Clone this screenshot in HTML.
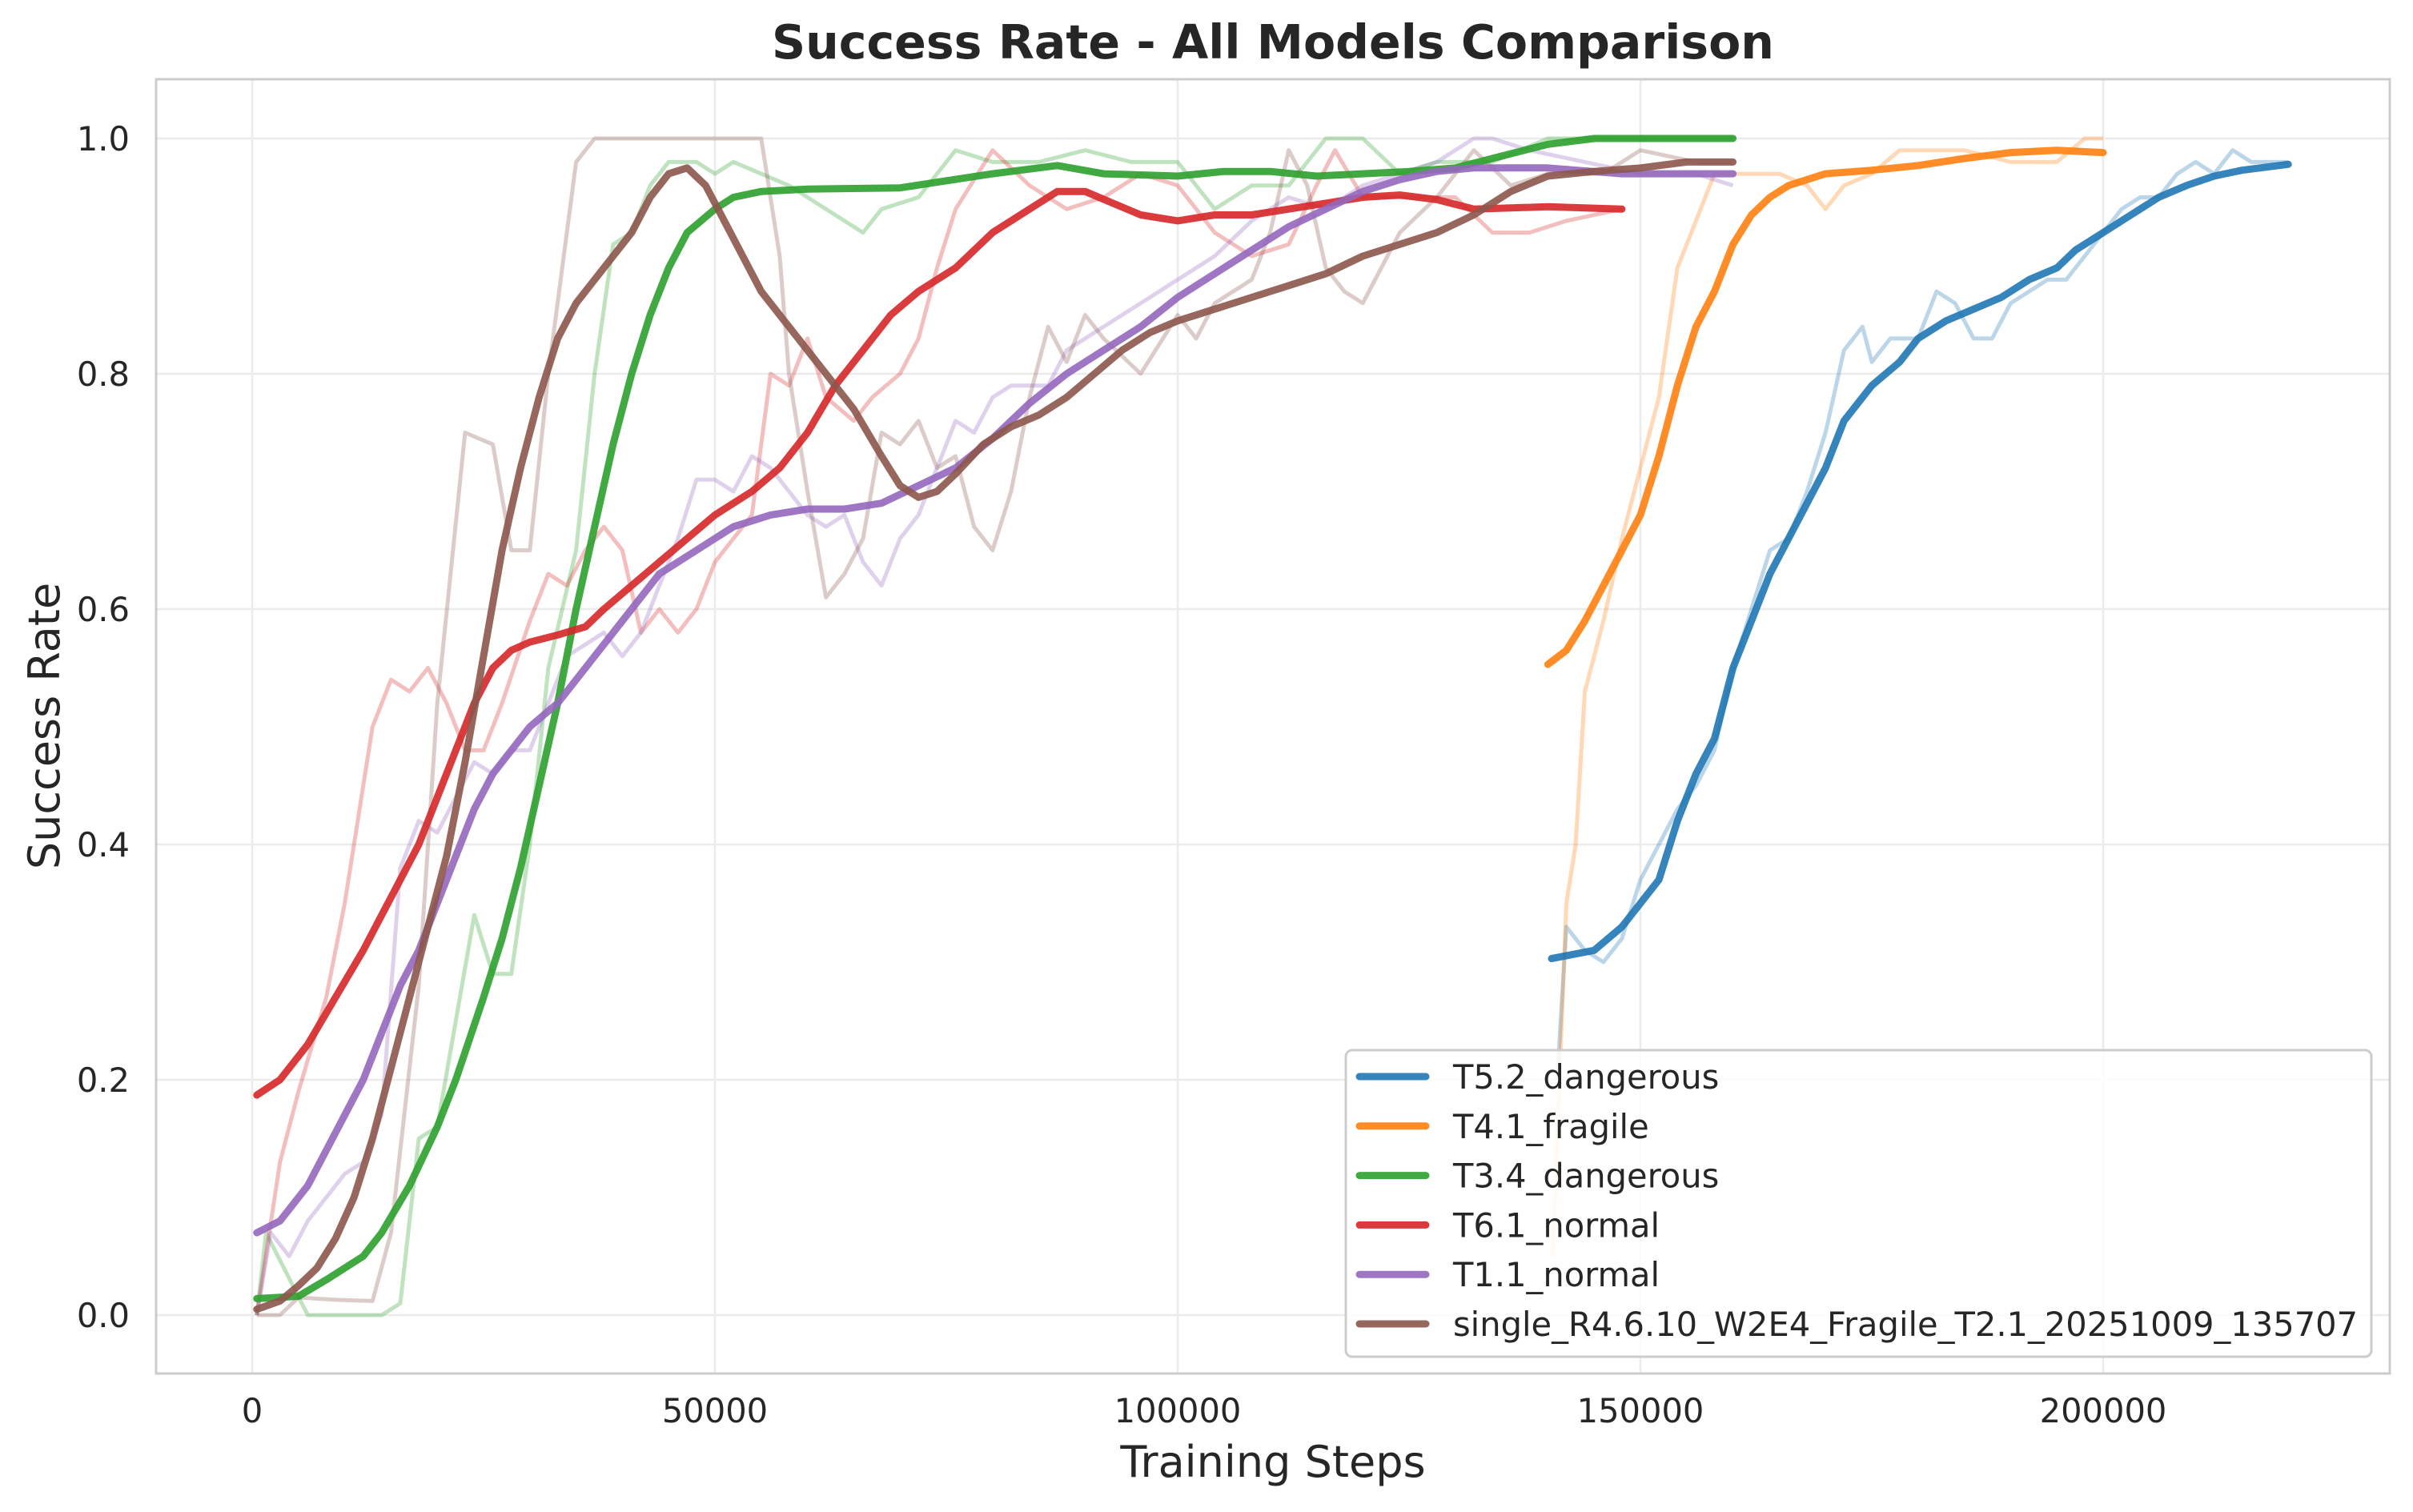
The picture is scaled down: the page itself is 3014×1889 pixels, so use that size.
<!DOCTYPE html>
<html><head><meta charset="utf-8"><style>
html,body{margin:0;padding:0;background:#fff;}
svg text{font-family:"DejaVu Sans","Liberation Sans",sans-serif;fill:#262626;}
</style></head>
<body>
<svg id="chart" width="3014" height="1884" xmlns="http://www.w3.org/2000/svg">
<rect width="3014" height="1884" fill="#fff"/>
<text x="1590" y="73" font-size="58.5" font-weight="bold" text-anchor="middle">Success Rate - All Models Comparison</text>
<g id="grid"></g>
<g id="raw"></g>
<g id="smooth"></g>
<rect x="195" y="99" width="2790" height="1617" fill="none" stroke="#cccccc" stroke-width="3"/>
<g id="ticks"></g>
<text x="1590" y="1845" font-size="54" text-anchor="middle">Training Steps</text>
<text x="0" y="0" font-size="54" text-anchor="middle" transform="translate(74,907) rotate(-90)">Success Rate</text>
<g id="legend"></g>
</svg>
<script>
const names=["T5.2_dangerous","T4.1_fragile","T3.4_dangerous","T6.1_normal","T1.1_normal","single_R4.6.10_W2E4_Fragile_T2.1_20251009_135707"];
const colors=["#1f77b4","#ff7f0e","#2ca02c","#d62728","#9467bd","#8c564b"];
const xTicks=[0,50000,100000,150000,200000];
const yTicks=[0.0,0.2,0.4,0.6,0.8,1.0];
const blueSteps=[140400,145000,148000,150000,152000,154000,156000,158000,160000,162000,164000,166000,168000,170000,172000,175000,178000,180000,183000,186000,189000,192000,195000,197000,200000,203000,206000,209000,212000,215000,220000];
const blueSmooth=[0.303,0.31,0.33,0.35,0.37,0.42,0.46,0.49,0.55,0.59,0.63,0.66,0.69,0.72,0.76,0.79,0.81,0.83,0.845,0.855,0.865,0.88,0.89,0.905,0.92,0.935,0.95,0.96,0.968,0.973,0.978];
const blueRawSteps=[141000,142000,144000,146000,148000,150000,152000,154000,156000,158000,160000,162000,164000,166000,168000,170000,172000,174000,175000,177000,180000,182000,184000,186000,188000,190000,192000,194000,196000,198000,200000,202000,204000,206000,208000,210000,212000,214000,216000,220000];
const blueRaw=[0.2,0.33,0.31,0.30,0.32,0.37,0.40,0.43,0.45,0.48,0.55,0.60,0.65,0.66,0.70,0.75,0.82,0.84,0.81,0.83,0.83,0.87,0.86,0.83,0.83,0.86,0.87,0.88,0.88,0.90,0.92,0.94,0.95,0.95,0.97,0.98,0.97,0.99,0.98,0.98];
const orangeSteps=[140000,142000,144000,146000,148000,150000,152000,154000,156000,158000,160000,162000,164000,166000,170000,175000,180000,185000,190000,195000,200000];
const orangeSmooth=[0.553,0.565,0.59,0.62,0.65,0.68,0.73,0.79,0.84,0.87,0.91,0.935,0.95,0.96,0.97,0.973,0.977,0.983,0.988,0.99,0.988];
const orangeRawSteps=[140500,142000,143000,144000,146000,148000,150000,152000,154000,156000,158000,160000,165000,168000,170000,172000,175000,178000,185000,190000,195000,198000,200000];
const orangeRaw=[0.05,0.35,0.40,0.53,0.59,0.66,0.72,0.78,0.89,0.93,0.97,0.97,0.97,0.96,0.94,0.96,0.97,0.99,0.99,0.98,0.98,1.0,1.0];
const greenSteps=[500,5000,8000,12000,14000,17000,20000,22000,25000,27000,29000,31000,33000,35000,37000,39000,41000,43000,45000,47000,50000,52000,55000,60000,70000,80000,87000,92000,100000,105000,110000,115000,120000,125000,130000,135000,140000,145000,160000];
const greenSmooth=[0.014,0.016,0.03,0.05,0.07,0.11,0.16,0.2,0.27,0.32,0.38,0.45,0.52,0.6,0.67,0.74,0.8,0.85,0.89,0.92,0.94,0.95,0.955,0.957,0.958,0.97,0.977,0.97,0.968,0.972,0.972,0.968,0.97,0.972,0.975,0.985,0.995,1.0,1.0];
const greenRawSteps=[500,1500,6000,14000,16000,18000,20000,22000,24000,26000,28000,30000,32000,35000,37000,39000,41000,43000,45000,48000,50000,52000,55000,58000,62000,66000,68000,72000,76000,80000,85000,90000,95000,100000,104000,108000,112000,116000,120000,124000,128000,134000,140000,150000,160000];
const greenRaw=[0.0,0.07,0.0,0.0,0.01,0.15,0.16,0.25,0.34,0.29,0.29,0.4,0.55,0.65,0.8,0.91,0.92,0.96,0.98,0.98,0.97,0.98,0.97,0.96,0.94,0.92,0.94,0.95,0.99,0.98,0.98,0.99,0.98,0.98,0.94,0.96,0.96,1.0,1.0,0.97,0.98,0.98,1.0,1.0,1.0];
const redSteps=[500,3000,6000,9000,12000,14000,16000,18000,20000,22000,24000,26000,28000,30000,33000,36000,38000,41000,44000,47000,50000,54000,57000,60000,63000,66000,69000,72000,76000,80000,84000,87000,90000,93000,96000,100000,104000,108000,112000,116000,120000,124000,128000,132000,140000,148000];
const redSmooth=[0.187,0.2,0.23,0.27,0.31,0.34,0.37,0.4,0.44,0.48,0.52,0.55,0.565,0.572,0.578,0.585,0.6,0.62,0.64,0.66,0.68,0.7,0.72,0.75,0.79,0.82,0.85,0.87,0.89,0.92,0.94,0.955,0.955,0.945,0.935,0.93,0.935,0.935,0.94,0.945,0.95,0.952,0.948,0.94,0.942,0.94];
const redRawSteps=[500,3000,5000,8000,10000,13000,15000,17000,19000,21000,23000,25000,27000,30000,32000,34000,36000,38000,40000,42000,44000,46000,48000,50000,54000,56000,58000,60000,62000,65000,67000,70000,72000,74000,76000,80000,84000,88000,92000,96000,100000,104000,108000,112000,115000,117000,120000,126000,130000,134000,138000,142000,148000];
const redRaw=[0.0,0.13,0.19,0.27,0.35,0.5,0.54,0.53,0.55,0.52,0.48,0.48,0.52,0.59,0.63,0.62,0.65,0.67,0.65,0.58,0.6,0.58,0.6,0.64,0.68,0.8,0.79,0.83,0.78,0.76,0.78,0.8,0.83,0.89,0.94,0.99,0.96,0.94,0.95,0.97,0.96,0.92,0.9,0.91,0.96,0.99,0.95,0.95,0.95,0.92,0.92,0.93,0.94];
const purpleSteps=[500,3000,6000,8000,10000,12000,14000,16000,18000,20000,22000,24000,26000,28000,30000,33000,36000,40000,44000,48000,52000,56000,60000,64000,68000,72000,76000,80000,84000,88000,92000,96000,100000,104000,108000,112000,116000,120000,124000,128000,132000,140000,148000,160000];
const purpleSmooth=[0.07,0.08,0.11,0.14,0.17,0.2,0.24,0.28,0.31,0.35,0.39,0.43,0.46,0.48,0.5,0.52,0.55,0.59,0.63,0.65,0.67,0.68,0.685,0.685,0.69,0.705,0.72,0.745,0.775,0.8,0.82,0.84,0.865,0.885,0.905,0.925,0.94,0.955,0.965,0.972,0.975,0.975,0.97,0.97];
const purpleRawSteps=[500,2000,4000,6000,8000,10000,12000,14000,16000,18000,20000,22000,24000,26000,28000,30000,32000,34000,36000,38000,40000,42000,44000,46000,48000,50000,52000,54000,56000,58000,60000,62000,64000,66000,68000,70000,72000,74000,76000,78000,80000,82000,86000,88000,92000,96000,100000,104000,108000,112000,116000,120000,124000,128000,132000,134000,138000,144000,150000,156000,160000];
const purpleRaw=[0.0,0.07,0.05,0.08,0.1,0.12,0.13,0.17,0.38,0.42,0.41,0.44,0.47,0.46,0.48,0.48,0.52,0.56,0.57,0.58,0.56,0.58,0.62,0.66,0.71,0.71,0.7,0.73,0.72,0.7,0.68,0.67,0.68,0.64,0.62,0.66,0.68,0.72,0.76,0.75,0.78,0.79,0.79,0.82,0.84,0.86,0.88,0.9,0.93,0.95,0.94,0.96,0.97,0.98,1.0,1.0,0.99,0.98,0.97,0.97,0.96];
const brownSteps=[500,3000,5000,7000,9000,11000,13000,15000,17000,19000,21000,23000,25000,27000,29000,31000,33000,35000,37000,39000,41000,43000,45000,47000,49000,51000,53000,55000,57000,60000,62000,65000,68000,70000,72000,74000,76000,79000,82000,85000,88000,91000,94000,97000,100000,104000,108000,112000,116000,120000,124000,128000,132000,136000,140000,145000,150000,155000,160000];
const brownSmooth=[0.005,0.012,0.025,0.04,0.065,0.1,0.15,0.21,0.27,0.33,0.39,0.47,0.56,0.65,0.72,0.78,0.83,0.86,0.88,0.9,0.92,0.95,0.97,0.975,0.96,0.93,0.9,0.87,0.85,0.82,0.8,0.77,0.73,0.705,0.695,0.7,0.715,0.74,0.755,0.765,0.78,0.8,0.82,0.835,0.845,0.855,0.865,0.875,0.885,0.9,0.91,0.92,0.935,0.955,0.968,0.972,0.975,0.98,0.98];
const brownRawSteps=[500,3000,5000,9000,13000,15000,18000,20000,23000,26000,28000,30000,32000,35000,37000,50000,55000,57000,58000,60000,62000,64000,66000,68000,70000,72000,74000,76000,78000,80000,82000,84000,86000,88000,90000,92000,96000,100000,102000,104000,108000,110000,112000,114000,116000,118000,120000,124000,128000,132000,136000,140000,146000,150000,156000,160000];
const brownRaw=[0.0,0.0,0.015,0.013,0.012,0.07,0.28,0.52,0.75,0.74,0.65,0.65,0.8,0.98,1.0,1.0,1.0,0.9,0.8,0.7,0.61,0.63,0.66,0.75,0.74,0.76,0.72,0.73,0.67,0.65,0.7,0.78,0.84,0.81,0.85,0.83,0.8,0.85,0.83,0.86,0.88,0.92,0.99,0.96,0.89,0.87,0.86,0.92,0.95,0.99,0.96,0.97,0.97,0.99,0.98,0.98];

const series=[
 [blueRawSteps,blueRaw,blueSteps,blueSmooth],
 [orangeRawSteps,orangeRaw,orangeSteps,orangeSmooth],
 [greenRawSteps,greenRaw,greenSteps,greenSmooth],
 [redRawSteps,redRaw,redSteps,redSmooth],
 [purpleRawSteps,purpleRaw,purpleSteps,purpleSmooth],
 [brownRawSteps,brownRaw,brownSteps,brownSmooth]
];
const NS="http://www.w3.org/2000/svg";
const X0=315,XPER=578/50000,Y0=1643,YPER=1470;
function sx(v){return X0+v*XPER;}
function sy(v){return Y0-v*YPER;}
function mk(tag,attrs,parent){const e=document.createElementNS(NS,tag);for(const k in attrs)e.setAttribute(k,attrs[k]);parent.appendChild(e);return e;}
const grid=document.getElementById('grid'),ticks=document.getElementById('ticks');
xTicks.forEach(t=>{
 const l=mk('line',{x1:sx(t),x2:sx(t),y1:99,y2:1716,stroke:'#ebebeb','stroke-width':2.5},grid);
 
 
 const tx=mk('text',{x:sx(t),y:1777,'font-size':41.6,'text-anchor':'middle'},ticks);
 tx.textContent=String(t);
 
 
});
yTicks.forEach(t=>{
 const l=mk('line',{x1:195,x2:2985,y1:sy(t),y2:sy(t),stroke:'#ebebeb','stroke-width':2.5},grid);
 
 
 const tx=mk('text',{x:162,y:sy(t)+15,'font-size':41.6,'text-anchor':'end'},ticks);
 tx.textContent=t.toFixed(1);
 
 
});
function pts(xs,ys){return xs.map((x,i)=>sx(x).toFixed(1)+','+sy(ys[i]).toFixed(1)).join(' ');}
const rawG=document.getElementById('raw'),smG=document.getElementById('smooth');
series.forEach((s,i)=>{
 const r=mk('polyline',{points:pts(s[0],s[1]),fill:'none',stroke:colors[i],'stroke-opacity':0.3,'stroke-width':5,'stroke-linejoin':'round'},rawG);
 
 
});
series.forEach((s,i)=>{
 const p=mk('polyline',{points:pts(s[2],s[3]),fill:'none',stroke:colors[i],'stroke-opacity':0.9,'stroke-width':9,'stroke-linejoin':'round','stroke-linecap':'round'},smG);
 
 
});
const lg=document.getElementById('legend');
const box=mk('rect',{x:1681,y:1312,width:1281,height:383,rx:8,fill:'#fff','fill-opacity':0.85,stroke:'#cccccc','stroke-width':3},lg);


names.forEach((n,i)=>{
 const y=1345+i*61.8;
 const g=mk('g',{},lg);
 
 
 mk('line',{x1:1698,x2:1781,y1:y,y2:y,stroke:colors[i],'stroke-opacity':0.9,'stroke-width':9,'stroke-linecap':'round'},g);
 const t=mk('text',{x:1815,y:y+15,'font-size':41.6},g);
 t.textContent=n;
});
</script>
</body></html>
